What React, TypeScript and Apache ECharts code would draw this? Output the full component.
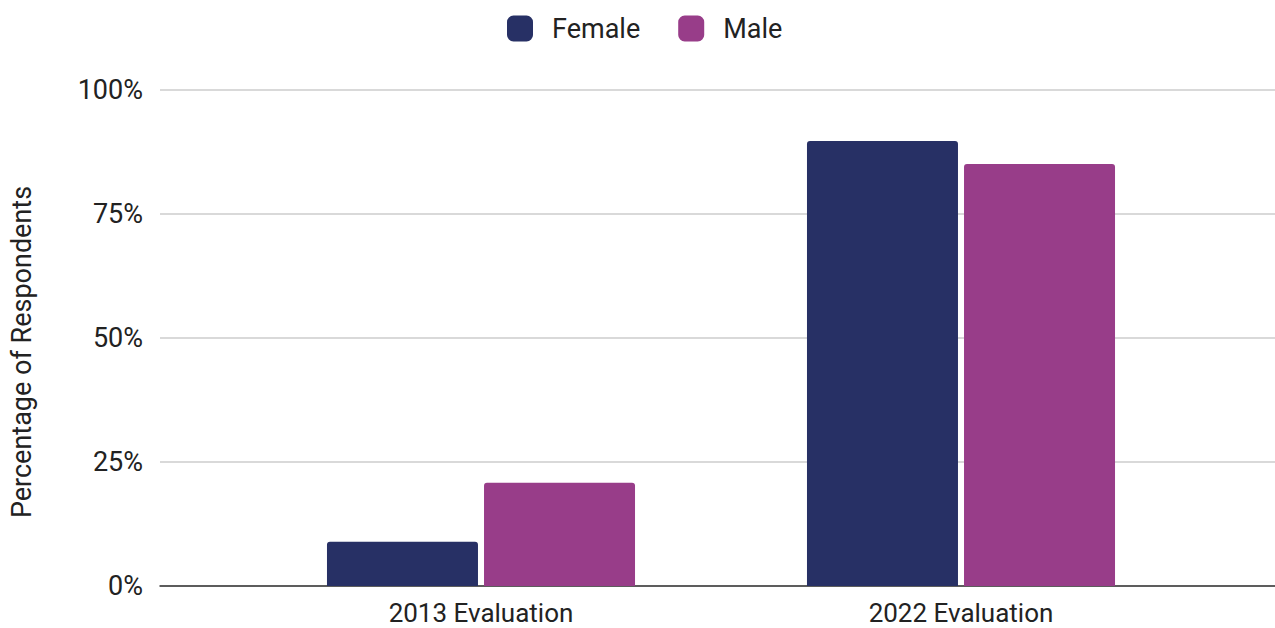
import React, { useEffect, useRef } from "react";
import * as echarts from "echarts";

const categories = ["2013 Evaluation", "2022 Evaluation"];
const seriesNames = ["Female", "Male"];
const femaleValues = [8.9, 89.7];
const maleValues = [20.8, 85.1];
const yTicks = [0, 25, 50, 75, 100];
const yTitle = "Percentage of Respondents";

export default function App() {
  const ref = useRef<HTMLDivElement>(null);
  useEffect(() => {
    document.body.style.margin = "0";
    const chart = echarts.init(ref.current!, null, { renderer: "svg" });
    const font = "Roboto";
    chart.setOption({
      animation: false,
      textStyle: { fontFamily: font },
      legend: {
        top: 15,
        left: 507,
        padding: 0,
        data: seriesNames,
        icon: "roundRect",
        itemWidth: 26,
        itemHeight: 26,
        itemGap: 38,
        textStyle: { fontSize: 27, lineHeight: 26, color: "#222", padding: [0, 0, 0, 14], fontFamily: font },
      },
      graphic: [
        {
          type: "text",
          x: 22,
          y: 352,
          rotation: Math.PI / 2,
          style: {
            text: yTitle,
            fontSize: 27,
            fontFamily: font,
            fill: "#222",
            textAlign: "center",
            textVerticalAlign: "middle",
          },
        },
      ],
      grid: [
        { left: 160, right: 0, top: 90, bottom: 42, containLabel: false, outerBoundsMode: "none" },
        { left: 241, right: 74, top: 90, bottom: 42, containLabel: false, outerBoundsMode: "none" },
      ],
      xAxis: [
        {
          gridIndex: 0,
          type: "category",
          data: categories,
          axisLine: { show: true, lineStyle: { color: "#333", width: 1.5 } },
          axisTick: { show: false },
          axisLabel: { show: false },
          splitLine: { show: false },
        },
        {
          gridIndex: 1,
          type: "category",
          data: categories,
          axisLine: { show: false },
          axisTick: { show: false },
          axisLabel: { fontSize: 26, lineHeight: 22, color: "#222", margin: 16, fontFamily: font },
        },
      ],
      yAxis: [
        {
          gridIndex: 0,
          type: "value",
          min: yTicks[0],
          max: yTicks[yTicks.length - 1],
          interval: 25,
          axisLine: { show: false },
          axisTick: { show: false },
          axisLabel: { fontSize: 27, color: "#222", margin: 17, formatter: "{value}%", fontFamily: font },
          splitLine: { lineStyle: { color: "#cccccc", width: 1.5 } },
        },
        {
          gridIndex: 1,
          type: "value",
          min: 0,
          max: 100,
          interval: 25,
          show: false,
          splitLine: { show: false },
        },
      ],
      series: [
        {
          name: seriesNames[0],
          type: "bar",
          xAxisIndex: 1,
          yAxisIndex: 1,
          data: femaleValues,
          barWidth: 151,
          barGap: "4%",
          itemStyle: { color: "#273065", borderRadius: [3, 3, 0, 0] },
        },
        {
          name: seriesNames[1],
          type: "bar",
          xAxisIndex: 1,
          yAxisIndex: 1,
          data: maleValues,
          barWidth: 151,
          barGap: "4%",
          itemStyle: { color: "#983d89", borderRadius: [3, 3, 0, 0] },
        },
      ],
    });
    return () => chart.dispose();
  }, []);
  return <div ref={ref} style={{ width: 1275, height: 628 }} />;
}
